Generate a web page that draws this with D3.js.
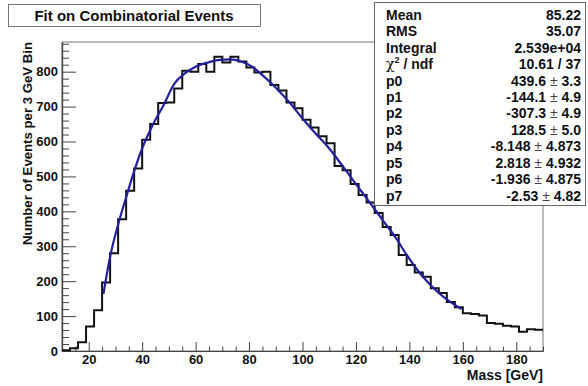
<!DOCTYPE html>
<html>
<head>
<meta charset="utf-8">
<script src="https://cdn.jsdelivr.net/npm/d3@7"></script>
<style>
  body { margin: 0; background: #fff; }
  svg { display: block; font-family: "Liberation Sans", Arial, sans-serif; }
</style>
</head>
<body>
<div id="chart"></div>
<script>
// histogram: low edge of each 3 GeV bin and the entries in it
const binWidth = 3;
const binLow = [10, 13, 16, 19, 22, 25, 28, 31, 34, 37,
    40, 43, 46, 49, 52, 55, 58, 61, 64, 67,
    70, 73, 76, 79, 82, 85, 88, 91, 94, 97,
    100, 103, 106, 109, 112, 115, 118, 121, 124, 127,
    130, 133, 136, 139, 142, 145, 148, 151, 154, 157,
    160, 163, 166, 169, 172, 175, 178, 181, 184, 187];
const counts = [2, 8, 25, 70, 117, 196, 280, 377, 459, 523,
    605, 650, 710, 712, 752, 803, 800, 822, 800, 843,
    826, 843, 829, 812, 798, 800, 762, 746, 712, 695,
    662, 640, 615, 595, 530, 518, 478, 447, 425, 395,
    355, 332, 275, 246, 225, 213, 180, 166, 140, 125,
    108, 106, 102, 80, 78, 72, 70, 55, 62, 61];

// fitted curve
const fitMass = [25.5, 28, 31, 34, 37, 40, 44, 48, 52, 56, 60, 65, 69, 73, 77, 81, 85,
    90, 95, 100, 105, 110, 115, 120, 125, 130, 135, 139, 143, 147, 151, 155, 159.5];
const fitValue = [163, 270, 362, 440, 515, 580, 648, 704, 765, 795, 814, 827, 834, 835, 829, 815, 790,
    754, 713, 666, 622, 580, 530, 478, 427, 375, 323, 275, 232, 196, 166, 142, 120];

const xTicks = [20, 40, 60, 80, 100, 120, 140, 160, 180];
const yTicks = [0, 100, 200, 300, 400, 500, 600, 700, 800];

// stats box
const statLabels = ["Mean", "RMS", "Integral", "chi2", "p0", "p1", "p2", "p3", "p4", "p5", "p6", "p7"];
const statValues = ["85.22", "35.07", "2.539e+04", "10.61 / 37", "439.6", "-144.1", "-307.3", "128.5",
    "-8.148", "2.818", "-1.936", "-2.53"];
const statErrors = [null, null, null, null, "3.3", "4.9", "4.9", "5.0", "4.873", "4.932", "4.875", "4.82"];

let width = 588, height = 386;
let x = d3.scaleLinear().domain([10, 190]).range([62, 543]);
let y = d3.scaleLinear().domain([0, 885]).range([351, 42]);

let svg = d3.select("#chart").append("svg")
    .attr("width", width)
    .attr("height", height);

svg.append("rect")
    .attr("width", width)
    .attr("height", height)
    .attr("fill", "#fff");

// frame
svg.append("rect")
    .attr("x", x.range()[0])
    .attr("y", y.range()[1])
    .attr("width", x.range()[1] - x.range()[0])
    .attr("height", y.range()[0] - y.range()[1])
    .attr("fill", "none")
    .attr("stroke", "#777")
    .attr("stroke-width", 1);

// minor ticks
let xMinor = d3.range(10, 191, 5).filter(v => v % 20 !== 0);
let yMinor = d3.range(0, 885, 20).filter(v => v % 100 !== 0);

svg.append("g")
    .attr("class", "axis minor")
    .attr("transform", "translate(0," + y(0) + ")")
    .call(d3.axisBottom(x).tickValues(xMinor).tickSize(-4.5).tickSizeOuter(0).tickFormat(""));

svg.append("g")
    .attr("class", "axis minor")
    .attr("transform", "translate(" + x(10) + ",0)")
    .call(d3.axisLeft(y).tickValues(yMinor).tickSize(-7).tickSizeOuter(0).tickFormat(""));

// major ticks + labels
svg.append("g")
    .attr("class", "axis")
    .attr("transform", "translate(0," + y(0) + ")")
    .call(d3.axisBottom(x).tickValues(xTicks).tickSize(-9).tickSizeOuter(0).tickPadding(4));

svg.append("g")
    .attr("class", "axis")
    .attr("transform", "translate(" + x(10) + ",0)")
    .call(d3.axisLeft(y).tickValues(yTicks).tickSize(-14).tickSizeOuter(0).tickPadding(4));

svg.selectAll(".axis path.domain").attr("stroke", "#444").attr("stroke-width", 1.2);
svg.selectAll(".axis .tick line").attr("stroke", "#444").attr("stroke-width", 1);
svg.selectAll(".axis text")
    .attr("font-family", "Liberation Sans, Arial, sans-serif")
    .attr("font-size", 13)
    .attr("font-weight", "bold")
    .attr("fill", "#111");

// axis titles
svg.append("text")
    .attr("transform", "translate(31.5," + y.range()[1] + ") rotate(-90)")
    .attr("text-anchor", "end")
    .attr("font-size", 13.2)
    .attr("font-weight", "bold")
    .attr("fill", "#111")
    .text("Number of Events per 3 GeV Bin");

svg.append("text")
    .attr("x", x.range()[1])
    .attr("y", 380)
    .attr("text-anchor", "end")
    .attr("font-size", 14)
    .attr("font-weight", "bold")
    .attr("fill", "#111")
    .text("Mass [GeV]");

// histogram outline
let steps = binLow.flatMap((lo, i) => [[lo, counts[i]], [lo + binWidth, counts[i]]]);
let stepLine = d3.line()
    .x(d => x(d[0]))
    .y(d => y(d[1]));

svg.append("path")
    .datum(steps)
    .attr("d", stepLine)
    .attr("fill", "none")
    .attr("stroke", "#111")
    .attr("stroke-width", 2);

// fit
let fitLine = d3.line()
    .x(d => x(d[0]))
    .y(d => y(d[1]))
    .curve(d3.curveMonotoneX);

svg.append("path")
    .datum(fitMass.map((m, i) => [m, fitValue[i]]))
    .attr("d", fitLine)
    .attr("fill", "none")
    .attr("stroke", "#2020a0")
    .attr("stroke-width", 2.2);

// title box
svg.append("rect")
    .attr("x", 8.5).attr("y", 4.5)
    .attr("width", 252).attr("height", 22)
    .attr("fill", "#fff")
    .attr("stroke", "#777");

svg.append("text")
    .attr("x", 134)
    .attr("y", 21)
    .attr("text-anchor", "middle")
    .attr("font-size", 15)
    .attr("font-weight", "bold")
    .attr("fill", "#111")
    .text("Fit on Combinatorial Events");

// stats box
let stats = svg.append("g").attr("class", "stats");

stats.append("rect")
    .attr("x", 374.5).attr("y", 2.5)
    .attr("width", 211).attr("height", 203)
    .attr("fill", "#fff")
    .attr("stroke", "#666");

let rowY = d3.scaleLinear().domain([0, statLabels.length - 1]).range([20, 200.5]);

statLabels.forEach((label, i) => {
    let lt = stats.append("text")
        .attr("x", 386)
        .attr("y", rowY(i))
        .attr("font-size", 14)
        .attr("font-weight", "bold")
        .attr("fill", "#111");
    if (label === "chi2") {
        lt.append("tspan").attr("font-weight", "normal").attr("font-family", "DejaVu Serif, serif").attr("font-size", 14).text("χ");
        lt.append("tspan").attr("font-size", 9).attr("dy", -6).text("2");
        lt.append("tspan").attr("dy", 6).text(" / ndf");
    } else {
        lt.text(label);
    }

    let vt = stats.append("text")
        .attr("x", 581)
        .attr("y", rowY(i))
        .attr("text-anchor", "end")
        .attr("font-size", 14)
        .attr("font-weight", "bold")
        .attr("fill", "#111");
    vt.append("tspan").text(statValues[i]);
    if (statErrors[i]) {
        vt.append("tspan").attr("font-weight", "normal").attr("fill", "#444").text(" ± ");
        vt.append("tspan").text(statErrors[i]);
    }
});
</script>
</body>
</html>
